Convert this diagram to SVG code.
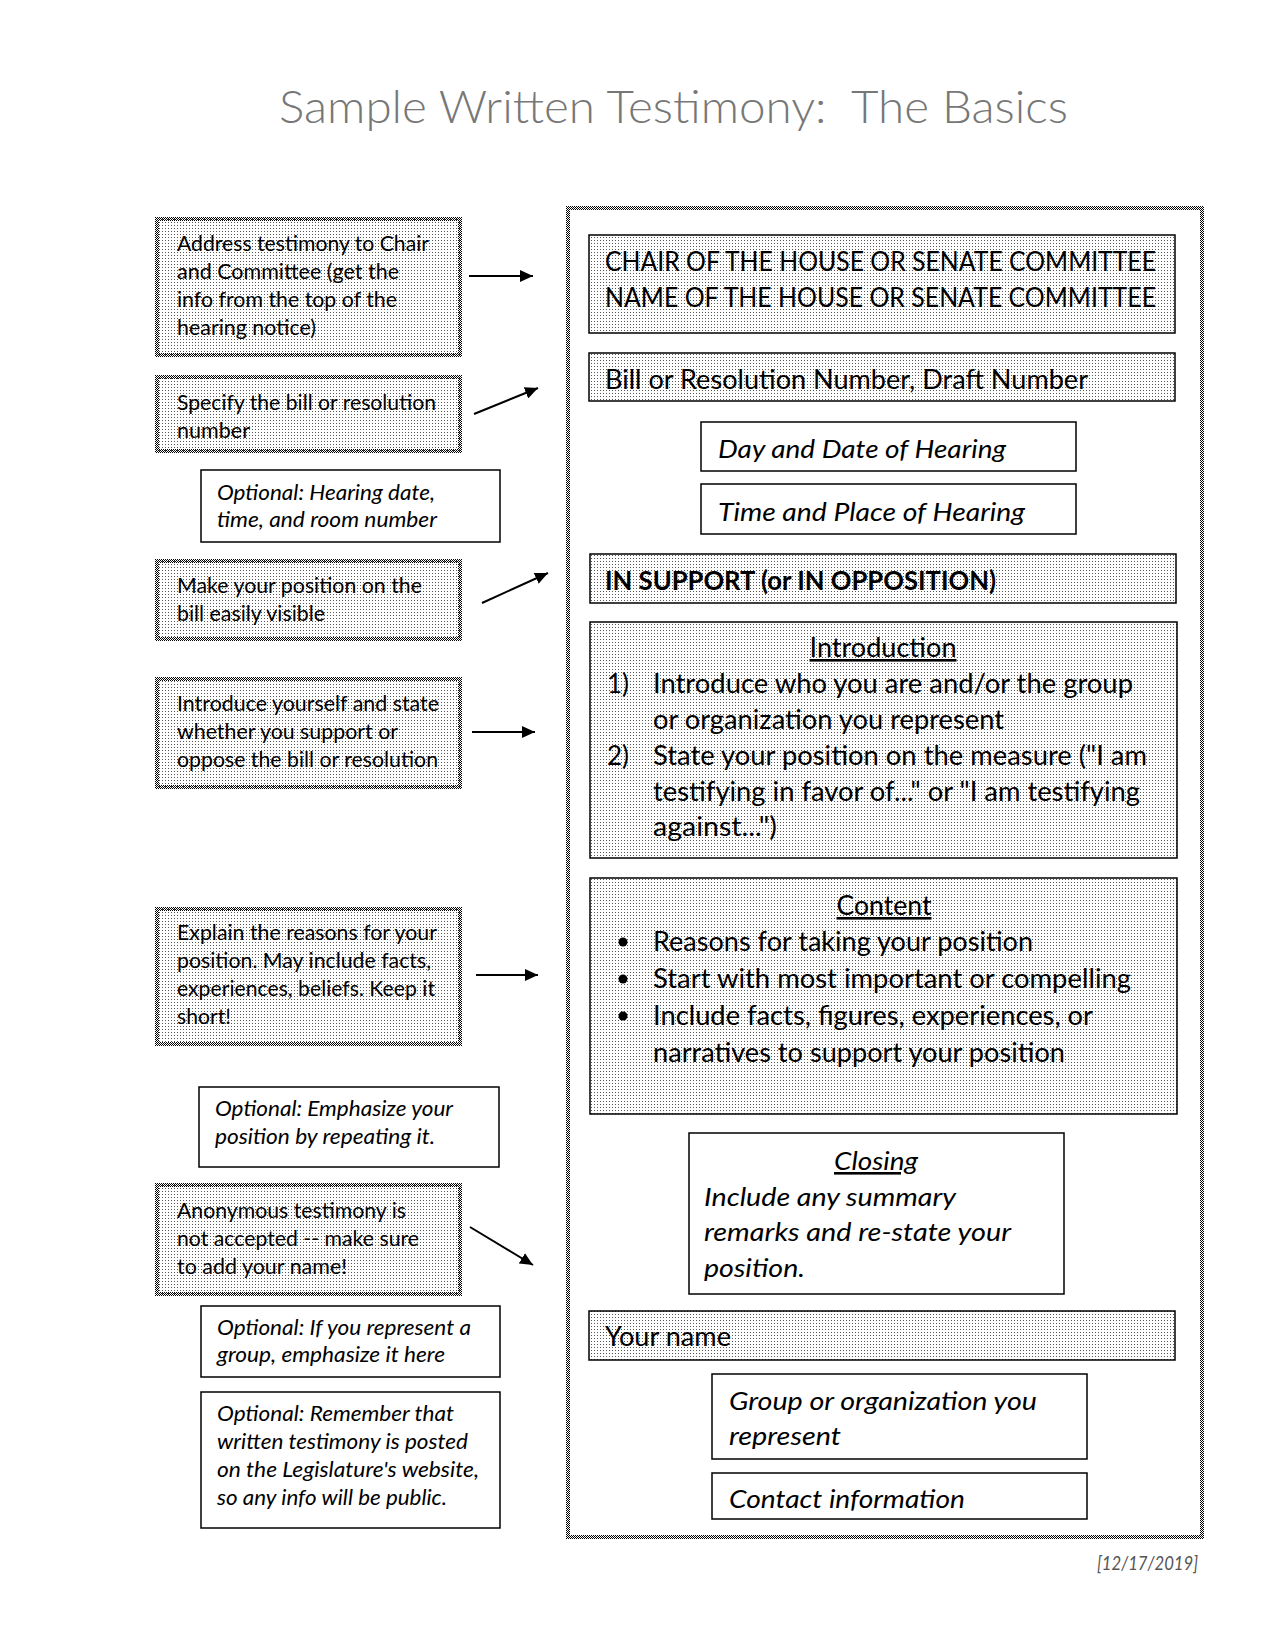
<svg xmlns="http://www.w3.org/2000/svg" width="1275" height="1650" viewBox="0 0 1275 1650">
<defs>
<pattern id="dots" width="3" height="3" patternUnits="userSpaceOnUse"><rect x="0" y="0" width="1" height="1" fill="#555"/></pattern>
<pattern id="checker" width="2" height="2" patternUnits="userSpaceOnUse"><rect x="0" y="0" width="1" height="1" fill="#000"/><rect x="1" y="1" width="1" height="1" fill="#000"/></pattern>
<marker id="ah" markerWidth="14" markerHeight="12" refX="13" refY="6" orient="auto" markerUnits="userSpaceOnUse"><path d="M0,0 L13,6 L0,12 Z" fill="#000"/></marker>
</defs>
<style>
text{font-family:Lato,"Open Sans","Liberation Sans",sans-serif;fill:#000}
.lt{font-size:20.5px}
.li{font-size:20.5px;font-style:italic}
.rt{font-size:26px}
.ri{font-size:26px;font-style:italic}
.rb{font-size:26px;font-weight:bold}
.u{text-decoration:underline}
.title{font-size:46px;font-weight:300;fill:#777;white-space:pre}
.date{font-size:19px;font-style:italic;fill:#555}
.ls{fill:url(#dots);stroke:url(#checker);stroke-width:4}
.rs{fill:url(#dots);stroke:#000;stroke-width:1.5}
.wb{fill:#fff;stroke:#000;stroke-width:1.5}
.outer{fill:none;stroke:url(#checker);stroke-width:4}
.conn line{stroke:#000;stroke-width:2;marker-end:url(#ah)}
</style>
<rect width="1275" height="1650" fill="#fff"/>
<text class="title" x="279" y="123" textLength="789" lengthAdjust="spacingAndGlyphs" xml:space="preserve">Sample Written Testimony:  The Basics</text>

<g id="left-address"><rect class="ls" x="157" y="219" width="303" height="136"/>
<text class="lt" x="177" y="251" textLength="252" lengthAdjust="spacingAndGlyphs">Address testimony to Chair</text>
<text class="lt" x="177" y="279" textLength="222" lengthAdjust="spacingAndGlyphs">and Committee (get the</text>
<text class="lt" x="177" y="307" textLength="220" lengthAdjust="spacingAndGlyphs">info from the top of the</text>
<text class="lt" x="177" y="335" textLength="139" lengthAdjust="spacingAndGlyphs">hearing notice)</text></g>

<g id="left-specify"><rect class="ls" x="157" y="377" width="303" height="74"/>
<text class="lt" x="177" y="410" textLength="259" lengthAdjust="spacingAndGlyphs">Specify the bill or resolution</text>
<text class="lt" x="177" y="438" textLength="73" lengthAdjust="spacingAndGlyphs">number</text></g>

<g id="left-opt-hearing"><rect class="wb" x="201" y="470" width="299" height="72"/>
<text class="li" x="217" y="500" textLength="218" lengthAdjust="spacingAndGlyphs">Optional: Hearing date,</text>
<text class="li" x="217" y="527" textLength="220" lengthAdjust="spacingAndGlyphs">time, and room number</text></g>

<g id="left-position"><rect class="ls" x="157" y="561" width="303" height="78"/>
<text class="lt" x="177" y="593" textLength="245" lengthAdjust="spacingAndGlyphs">Make your position on the</text>
<text class="lt" x="177" y="621" textLength="148" lengthAdjust="spacingAndGlyphs">bill easily visible</text></g>

<g id="left-introduce"><rect class="ls" x="157" y="679" width="303" height="108"/>
<text class="lt" x="177" y="711" textLength="262" lengthAdjust="spacingAndGlyphs">Introduce yourself and state</text>
<text class="lt" x="177" y="739" textLength="221" lengthAdjust="spacingAndGlyphs">whether you support or</text>
<text class="lt" x="177" y="767" textLength="261" lengthAdjust="spacingAndGlyphs">oppose the bill or resolution</text></g>

<g id="left-explain"><rect class="ls" x="157" y="909" width="303" height="135"/>
<text class="lt" x="177" y="940" textLength="260" lengthAdjust="spacingAndGlyphs">Explain the reasons for your</text>
<text class="lt" x="177" y="968" textLength="254" lengthAdjust="spacingAndGlyphs">position. May include facts,</text>
<text class="lt" x="177" y="996" textLength="258" lengthAdjust="spacingAndGlyphs">experiences, beliefs. Keep it</text>
<text class="lt" x="177" y="1024" textLength="54" lengthAdjust="spacingAndGlyphs">short!</text></g>

<g id="left-opt-emphasize"><rect class="wb" x="199" y="1087" width="300" height="80"/>
<text class="li" x="215" y="1116" textLength="238" lengthAdjust="spacingAndGlyphs">Optional: Emphasize your</text>
<text class="li" x="215" y="1144" textLength="220" lengthAdjust="spacingAndGlyphs">position by repeating it.</text></g>

<g id="left-anonymous"><rect class="ls" x="157" y="1185" width="303" height="109"/>
<text class="lt" x="177" y="1218" textLength="229" lengthAdjust="spacingAndGlyphs">Anonymous testimony is</text>
<text class="lt" x="177" y="1246" textLength="242" lengthAdjust="spacingAndGlyphs">not accepted -- make sure</text>
<text class="lt" x="177" y="1274" textLength="170" lengthAdjust="spacingAndGlyphs">to add your name!</text></g>

<g id="left-opt-group"><rect class="wb" x="201" y="1306" width="299" height="71"/>
<text class="li" x="217" y="1335" textLength="254" lengthAdjust="spacingAndGlyphs">Optional: If you represent a</text>
<text class="li" x="217" y="1362" textLength="228" lengthAdjust="spacingAndGlyphs">group, emphasize it here</text></g>

<g id="left-opt-public"><rect class="wb" x="201" y="1392" width="299" height="136"/>
<text class="li" x="217" y="1421" textLength="237" lengthAdjust="spacingAndGlyphs">Optional: Remember that</text>
<text class="li" x="217" y="1449" textLength="251" lengthAdjust="spacingAndGlyphs">written testimony is posted</text>
<text class="li" x="217" y="1477" textLength="262" lengthAdjust="spacingAndGlyphs">on the Legislature's website,</text>
<text class="li" x="217" y="1505" textLength="230" lengthAdjust="spacingAndGlyphs">so any info will be public.</text></g>

<g id="testimony-page"><rect class="outer" x="568" y="208" width="634" height="1329"/></g>

<g id="r-chair"><rect class="rs" x="589" y="235" width="586" height="98"/>
<text class="rt" x="605" y="271" textLength="551" lengthAdjust="spacingAndGlyphs">CHAIR OF THE HOUSE OR SENATE COMMITTEE</text>
<text class="rt" x="605" y="307" textLength="551" lengthAdjust="spacingAndGlyphs">NAME OF THE HOUSE OR SENATE COMMITTEE</text></g>

<g id="r-bill"><rect class="rs" x="589" y="353" width="586" height="48"/>
<text class="rt" x="605" y="389" textLength="483" lengthAdjust="spacingAndGlyphs">Bill or Resolution Number, Draft Number</text></g>

<g id="r-day"><rect class="wb" x="701" y="422" width="375" height="49"/>
<text class="ri" x="718" y="458" textLength="288" lengthAdjust="spacingAndGlyphs">Day and Date of Hearing</text></g>

<g id="r-time"><rect class="wb" x="701" y="484" width="375" height="50"/>
<text class="ri" x="718" y="521" textLength="307" lengthAdjust="spacingAndGlyphs">Time and Place of Hearing</text></g>

<g id="r-support"><rect class="rs" x="590" y="554" width="586" height="49"/>
<text class="rb" x="605" y="590" textLength="391" lengthAdjust="spacingAndGlyphs">IN SUPPORT (or IN OPPOSITION)</text></g>

<g id="r-introduction"><rect class="rs" x="590" y="622" width="587" height="236"/>
<text class="rt u" x="883" y="657" text-anchor="middle" textLength="147" lengthAdjust="spacingAndGlyphs">Introduction</text>
<text class="rt" x="607" y="693">1)</text>
<text class="rt" x="653" y="693" textLength="480" lengthAdjust="spacingAndGlyphs">Introduce who you are and/or the group</text>
<text class="rt" x="653" y="729" textLength="351" lengthAdjust="spacingAndGlyphs">or organization you represent</text>
<text class="rt" x="607" y="765">2)</text>
<text class="rt" x="653" y="765" textLength="494" lengthAdjust="spacingAndGlyphs">State your position on the measure ("I am</text>
<text class="rt" x="653" y="801" textLength="487" lengthAdjust="spacingAndGlyphs">testifying in favor of..." or "I am testifying</text>
<text class="rt" x="653" y="836" textLength="124" lengthAdjust="spacingAndGlyphs">against...")</text></g>

<g id="r-content"><rect class="rs" x="590" y="878" width="587" height="236"/>
<text class="rt u" x="884" y="915" text-anchor="middle" textLength="95" lengthAdjust="spacingAndGlyphs">Content</text>
<circle cx="623" cy="942" r="4.5"/><circle cx="623" cy="979" r="4.5"/><circle cx="623" cy="1016" r="4.5"/>
<text class="rt" x="653" y="951" textLength="380" lengthAdjust="spacingAndGlyphs">Reasons for taking your position</text>
<text class="rt" x="653" y="988" textLength="478" lengthAdjust="spacingAndGlyphs">Start with most important or compelling</text>
<text class="rt" x="653" y="1025" textLength="440" lengthAdjust="spacingAndGlyphs">Include facts, figures, experiences, or</text>
<text class="rt" x="653" y="1062" textLength="412" lengthAdjust="spacingAndGlyphs">narratives to support your position</text></g>

<g id="r-closing"><rect class="wb" x="689" y="1133" width="375" height="161"/>
<text class="ri u" x="876" y="1170" text-anchor="middle" textLength="84" lengthAdjust="spacingAndGlyphs">Closing</text>
<text class="ri" x="704" y="1206" textLength="252" lengthAdjust="spacingAndGlyphs">Include any summary</text>
<text class="ri" x="704" y="1241" textLength="307" lengthAdjust="spacingAndGlyphs">remarks and re-state your</text>
<text class="ri" x="704" y="1277" textLength="101" lengthAdjust="spacingAndGlyphs">position.</text></g>

<g id="r-name"><rect class="rs" x="589" y="1311" width="586" height="49"/>
<text class="rt" x="605" y="1346" textLength="126" lengthAdjust="spacingAndGlyphs">Your name</text></g>

<g id="r-group"><rect class="wb" x="712" y="1374" width="375" height="85"/>
<text class="ri" x="729" y="1410" textLength="308" lengthAdjust="spacingAndGlyphs">Group or organization you</text>
<text class="ri" x="729" y="1445" textLength="112" lengthAdjust="spacingAndGlyphs">represent</text></g>

<g id="r-contact"><rect class="wb" x="712" y="1473" width="375" height="46"/>
<text class="ri" x="729" y="1508" textLength="236" lengthAdjust="spacingAndGlyphs">Contact information</text></g>

<text class="date" x="1198" y="1570" text-anchor="end" textLength="101" lengthAdjust="spacingAndGlyphs">[12/17/2019]</text>

<g id="connectors" class="conn">
<line x1="469" y1="276" x2="533" y2="276"/>
<line x1="474" y1="414" x2="538" y2="388"/>
<line x1="482" y1="603" x2="548" y2="573"/>
<line x1="472" y1="732" x2="535" y2="732"/>
<line x1="476" y1="975" x2="538" y2="975"/>
<line x1="470" y1="1227" x2="533" y2="1265"/>
</g>
</svg>
